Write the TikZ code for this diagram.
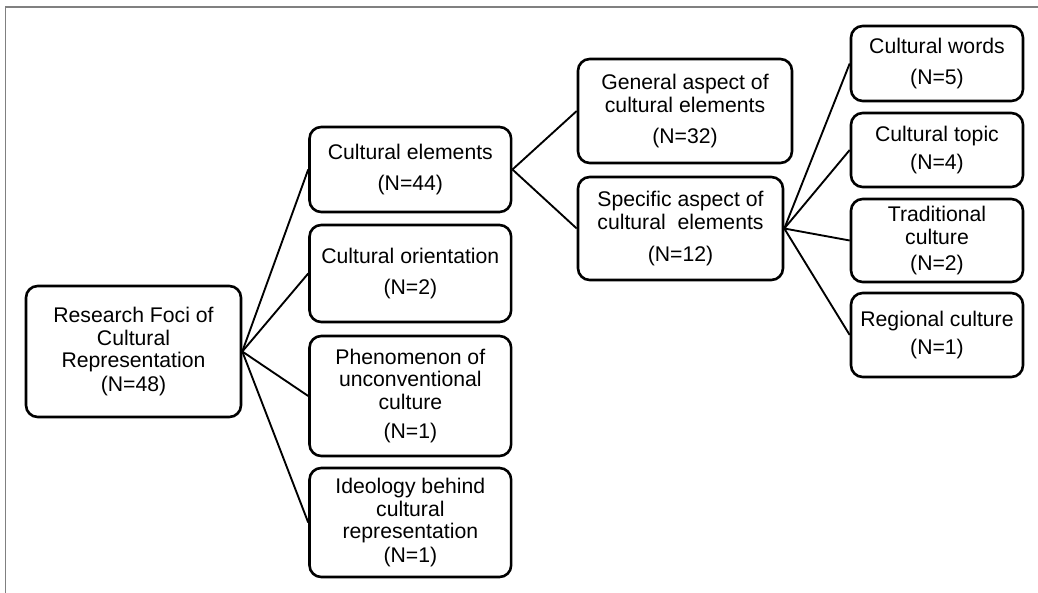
\documentclass[tikz,border=0pt]{standalone}
\usepackage{fontspec}
\setmainfont{Liberation Sans}
\usetikzlibrary{positioning}

\begin{document}
\begin{tikzpicture}[
    font=\fontsize{18.1}{19.2}\selectfont,
    box/.style={draw, line width=2.2pt, rounded corners=10pt, align=center,
        inner sep=0pt, fill=white},
    rootbox/.style={box, minimum width=6.45cm, minimum height=3.93cm},
    midbox/.style={box, minimum width=6.05cm},
    leafbox/.style={box, minimum width=5.16cm},
    link/.style={line width=1.6pt},
    frame/.style={draw=gray, line width=1.6pt}
]

\useasboundingbox (0,0) rectangle (31.14,-17.79);

% Frame
\draw[frame] (0.165,-17.79) -- (0.165,-0.21) -- (31.14,-0.21);

% Root
\node[rootbox] (root) at (4.005,-10.545) {Research Foci of\\Cultural\\Representation\\[1pt](N=48)};

% Second level
\node[midbox, minimum height=2.55cm] (elements) at (12.31,-5.085) {Cultural elements\\[8pt](N=44)};
\node[midbox, minimum height=2.91cm] (orientation) at (12.31,-8.205) {Cultural orientation\\[8pt](N=2)};
\node[midbox, minimum height=3.6cm] (phenomenon) at (12.31,-11.88) {Phenomenon of\\unconventional\\culture\\[6pt](N=1)};
\node[midbox, minimum height=3.27cm] (ideology) at (12.31,-15.675) {Ideology behind\\cultural\\representation\\[1pt](N=1)};

% Third level
\node[box, minimum width=6.42cm, minimum height=3.12cm] (general) at (20.55,-3.33) {General aspect of\\cultural elements\\[7pt](N=32)};
\node[box, minimum width=6.15cm, minimum height=3.09cm] (specific) at (20.415,-6.855) {Specific aspect of\\cultural\ \ elements\\[8pt](N=12)};

% Fourth level
\node[leafbox, minimum height=2.25cm] (words) at (28.11,-1.905) {Cultural words\\[7pt](N=5)};
\node[leafbox, minimum height=2.22cm] (topic) at (28.11,-4.5) {Cultural topic\\[5pt](N=4)};
\node[leafbox, minimum height=2.49cm] (traditional) at (28.11,-7.215) {Traditional\\culture\\[3pt](N=2)};
\node[leafbox, minimum height=2.52cm] (regional) at (28.11,-10.05) {Regional culture\\[5pt](N=1)};

% Links
\draw[link] (root.east) -- (elements.west);
\draw[link] (root.east) -- (orientation.west);
\draw[link] (root.east) -- (phenomenon.west);
\draw[link] (root.east) -- (ideology.west);

\draw[link] (elements.east) -- (general.west);
\draw[link] (elements.east) -- (specific.west);

\draw[link] (specific.east) -- (words.west);
\draw[link] (specific.east) -- (topic.west);
\draw[link] (specific.east) -- (traditional.west);
\draw[link] (specific.east) -- (regional.west);

\end{tikzpicture}
\end{document}
